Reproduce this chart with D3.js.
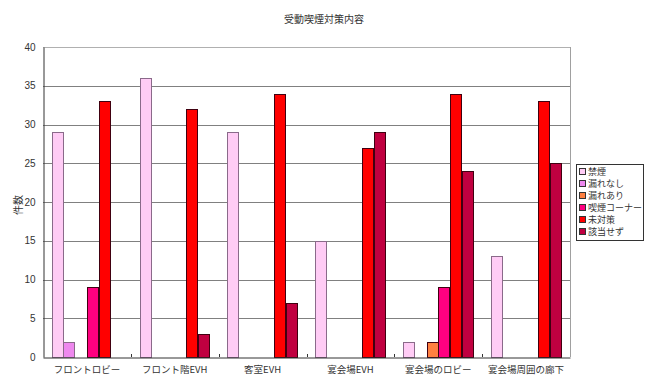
<!DOCTYPE html>
<html><head><meta charset="utf-8">
<script src="https://cdn.jsdelivr.net/npm/d3@7"></script>
<style>body{margin:0;background:#fff}svg{display:block}</style>
</head><body>
<script>
const title = "受動喫煙対策内容";
const yLabel = "件数";
const categories = ["フロントロビー","フロント階EVH","客室EVH","宴会場EVH","宴会場のロビー","宴会場周囲の廊下"];
const seriesNames = ["禁煙","漏れなし","漏れあり","喫煙コーナー","未対策","該当せず"];
const seriesColors = ["#FFCCF5","#EE88EE","#FF8040","#FF0080","#FF0000","#C00040"];
const kinen      = [29,36,29,15,2,13];
const morenashi  = [2,0,0,0,0,0];
const moreari    = [0,0,0,0,2,0];
const kitsuen    = [9,0,0,0,9,0];
const mitaisaku  = [33,32,34,27,34,33];
const gaitouSezu = [0,3,7,29,24,25];
const yTicks = [0,5,10,15,20,25,30,35,40];

(function(){
const series = [kinen,morenashi,moreari,kitsuen,mitaisaku,gaitouSezu];
const W=650,H=387;
const pL=43,pR=570,pT=47,pB=357;
const jp = "'Noto Sans CJK JP','Liberation Sans',sans-serif";
const svg=d3.select("body").append("svg").attr("width",W).attr("height",H);

const x=d3.scaleBand().domain(categories).range([pL,pR]).paddingInner(0).paddingOuter(0);
const bw = x.bandwidth()/7.5; // Excel gap width 150%
const y=d3.scaleLinear().domain([0,40]).range([pB,pT]);

// gridlines
svg.append("g").selectAll("line").data(yTicks.filter(t=>t>0)).join("line")
  .attr("x1",pL).attr("x2",pR).attr("y1",d=>Math.round(y(d))+0.5).attr("y2",d=>Math.round(y(d))+0.5)
  .attr("stroke",d=>d===40?"#b0b0b0":"#808080").attr("stroke-width",1);
// right border
svg.append("line").attr("x1",pR+0.5).attr("x2",pR+0.5).attr("y1",pT).attr("y2",pB).attr("stroke","#a0a0a0");

// bars
categories.forEach((c,ci)=>{
  series.forEach((s,si)=>{
    const v=s[ci];
    if(v<=0) return;
    svg.append("rect")
      .attr("x",Math.round(x(c)+0.75*bw+si*bw)+0.5)
      .attr("y",Math.round(y(v))+0.5)
      .attr("width",Math.round(bw)-1)
      .attr("height",Math.round(y(0))-Math.round(y(v)))
      .attr("fill",seriesColors[si])
      .attr("stroke",si<2?"#8a6a8a":"#400010")
      .attr("stroke-width",1);
  });
});

// axes
const yAxis=d3.axisLeft(y).tickValues(yTicks).tickSize(0).tickPadding(8);
const gy=svg.append("g").attr("transform",`translate(${pL+0.5},0)`).call(yAxis);
gy.select(".domain").attr("stroke","#333");
gy.selectAll("text").attr("font-family","'Liberation Sans',Arial,sans-serif").attr("font-size",10).attr("fill","#333");

const gx=svg.append("g").attr("transform",`translate(0,${pB+0.5})`)
  .call(d3.axisBottom(x).tickSize(0).tickPadding(9));
gx.select(".domain").attr("stroke","#333");
gx.selectAll("text").attr("font-family",jp).attr("font-size",9.5).attr("fill","#333");
// category boundary ticks (inside)
svg.append("g").selectAll("line").data(categories.slice(1)).join("line")
  .attr("x1",d=>Math.round(x(d))+0.5).attr("x2",d=>Math.round(x(d))+0.5)
  .attr("y1",pB-3).attr("y2",pB).attr("stroke","#333");

// title
svg.append("text").attr("x",324).attr("y",23).attr("text-anchor","middle")
  .attr("font-family",jp).attr("font-size",10).attr("fill","#333").text(title);
// y label
svg.append("text").attr("transform","translate(22,205) rotate(-90)").attr("text-anchor","middle")
  .attr("font-family",jp).attr("font-size",10).attr("fill","#333").text(yLabel);

// legend
const lg=svg.append("g");
lg.append("rect").attr("x",576.5).attr("y",164.5).attr("width",67).attr("height",76)
  .attr("fill","#fff").attr("stroke","#333");
seriesNames.forEach((n,i)=>{
  const cy=172+i*12;
  lg.append("rect").attr("x",579.5).attr("y",cy-3.5).attr("width",6).attr("height",6)
    .attr("fill",seriesColors[i]).attr("stroke","#333");
  lg.append("text").attr("x",588).attr("y",cy+3.2).attr("font-family",jp).attr("font-size",9)
    .attr("fill","#333").text(n);
});
})();
</script>
</body></html>
